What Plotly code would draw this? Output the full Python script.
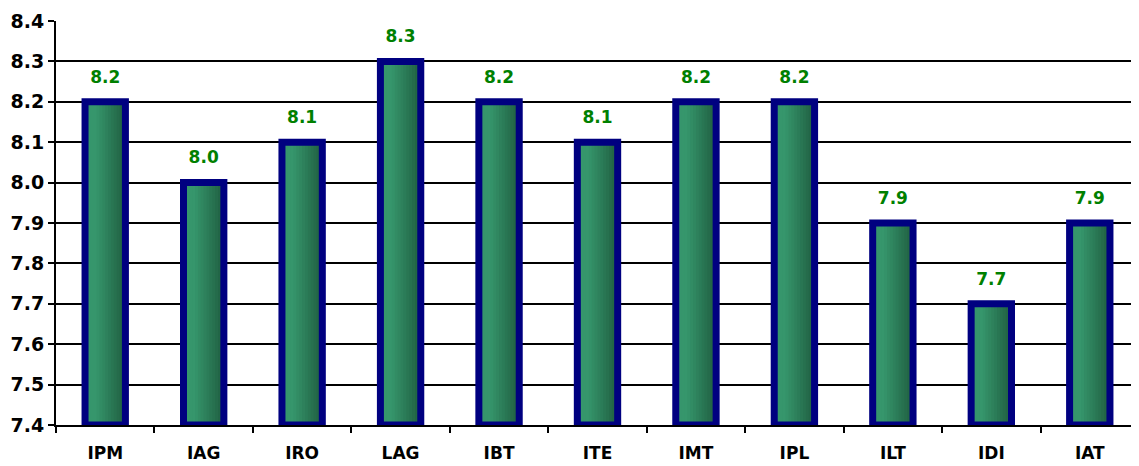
import plotly.graph_objects as go

categories = ["IPM", "IAG", "IRO", "LAG", "IBT", "ITE", "IMT", "IPL", "ILT", "IDI", "IAT"]
values = [8.2, 8.0, 8.1, 8.3, 8.2, 8.1, 8.2, 8.2, 7.9, 7.7, 7.9]
y_ticks = [7.4, 7.5, 7.6, 7.7, 7.8, 7.9, 8.0, 8.1, 8.2, 8.3, 8.4]

BASE = 7.4
BAR_W = 0.41
N_SLICES = 14
LEFT_RGB = (54, 150, 108)
RIGHT_RGB = (32, 96, 66)
FONT = "DejaVu Sans, Liberation Sans, Arial, sans-serif"

fig = go.Figure()
heights = [v - BASE for v in values]

# gradient fill: overlaid bars, each from a slice start to the right edge
for i in range(N_SLICES):
    t = i / (N_SLICES - 1)
    tt = max(0.0, (t - 0.25) / 0.75)
    rgb = tuple(round(LEFT_RGB[k] + (RIGHT_RGB[k] - LEFT_RGB[k]) * tt) for k in range(3))
    start = i * BAR_W / N_SLICES
    fig.add_trace(go.Bar(
        x=categories, y=heights, base=BASE,
        width=BAR_W - start,
        offset=-BAR_W / 2 + start,
        marker=dict(color="rgb(%d,%d,%d)" % rgb, line=dict(width=0)),
        hoverinfo="skip", showlegend=False,
    ))

# navy outline
fig.add_trace(go.Bar(
    x=categories, y=heights, base=BASE, width=BAR_W, offset=-BAR_W / 2,
    marker=dict(color="rgba(0,0,0,0)", line=dict(color="#000080", width=7)),
    showlegend=False,
))

# value labels
fig.add_trace(go.Scatter(
    x=categories, y=[v + 0.058 for v in values], mode="text",
    text=["%.1f" % v for v in values],
    textfont=dict(family=FONT, size=17, color="#008000", weight="bold"),
    textposition="middle center", showlegend=False, hoverinfo="skip",
))

# page body has an 8px margin, so the figure is offset accordingly
fig.update_layout(
    width=1131, height=458,
    margin=dict(l=48, r=0, t=13, b=41),
    paper_bgcolor="white", plot_bgcolor="white",
    barmode="overlay",
    font=dict(family=FONT, size=18, color="black", weight="bold"),
    xaxis=dict(
        type="category", showgrid=False, showline=True, linecolor="black", linewidth=2,
        ticks="outside", tickson="boundaries", ticklen=6, tickwidth=2, tickcolor="black",
        tickfont=dict(family=FONT, size=17, weight="bold"), ticklabelstandoff=12,
        range=[-0.5, len(categories) - 0.5], automargin=False,
    ),
    yaxis=dict(
        range=[7.4, 8.4], tickvals=y_ticks, ticktext=["%.1f" % t for t in y_ticks],
        showgrid=True, gridcolor="black", gridwidth=2,
        showline=True, linecolor="black", linewidth=2,
        ticks="outside", ticklen=6, tickwidth=2, tickcolor="black",
        tickfont=dict(family=FONT, size=19, weight="bold"),
        zeroline=False, automargin=False,
    ),
)

fig.write_html("out.html")
